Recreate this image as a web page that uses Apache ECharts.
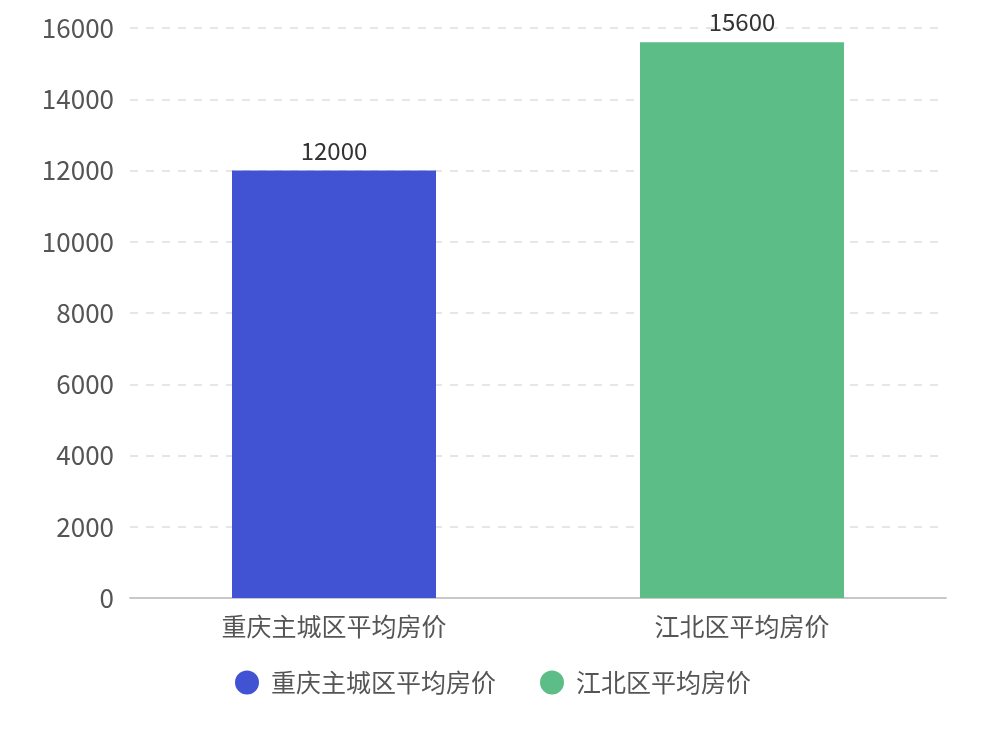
<!DOCTYPE html>
<html>
<head>
<meta charset="utf-8">
<style>
  html, body { margin: 0; padding: 0; background: #fff; }
  #chart { width: 986px; height: 738px; }
</style>
<script src="https://cdn.jsdelivr.net/npm/echarts@6/dist/echarts.min.js"></script>
</head>
<body>
<div id="chart"></div>
<script>
const categories = ['重庆主城区平均房价', '江北区平均房价'];
const mainCityPrice = [12000, null];
const jiangbeiPrice = [null, 15600];
const colors = ['#4152d3', '#5dbd87'];
const fontFamily = '"Noto Sans CJK SC", "Noto Sans", sans-serif';

const chart = echarts.init(document.getElementById('chart'));

chart.setOption({
  color: colors,
  textStyle: {fontFamily: fontFamily},
  grid: {
    left: 130,
    right: 40,
    top: 28,
    bottom: 140
  },
  legend: {
    bottom: 38,
    left: 'center',
    icon: 'circle',
    itemWidth: 24,
    itemHeight: 24,
    itemGap: 44,
    textStyle: {fontSize: 25, color: '#555', fontFamily: fontFamily, padding: [0, 0, 0, 7]},
    data: categories
  },
  xAxis: {
    type: 'category',
    data: categories,
    axisLine: {lineStyle: {color: '#c8c8c8', width: 2}},
    axisTick: {alignWithLabel: true, length: 8, lineStyle: {color: '#c8c8c8', width: 2}},
    axisLabel: {fontSize: 25, color: '#555', margin: 16, fontFamily: fontFamily}
  },
  yAxis: {
    type: 'value',
    min: 0,
    max: 16000,
    interval: 2000,
    axisLine: {show: false},
    axisTick: {show: false},
    axisLabel: {
      fontSize: 26,
      color: '#555',
      margin: 16,
      fontFamily: fontFamily,
      formatter: v => String(v)
    },
    splitLine: {lineStyle: {type: [8, 8], color: '#e6e6e6', width: 2}}
  },
  series: [
    {
      name: categories[0],
      type: 'bar',
      stack: 'price',
      barWidth: '50%',
      data: mainCityPrice,
      label: {show: true, position: 'top', fontSize: 24, color: '#333', distance: 8}
    },
    {
      name: categories[1],
      type: 'bar',
      stack: 'price',
      barWidth: '50%',
      data: jiangbeiPrice,
      label: {show: true, position: 'top', fontSize: 24, color: '#333', distance: 8}
    }
  ]
});
</script>
</body>
</html>
